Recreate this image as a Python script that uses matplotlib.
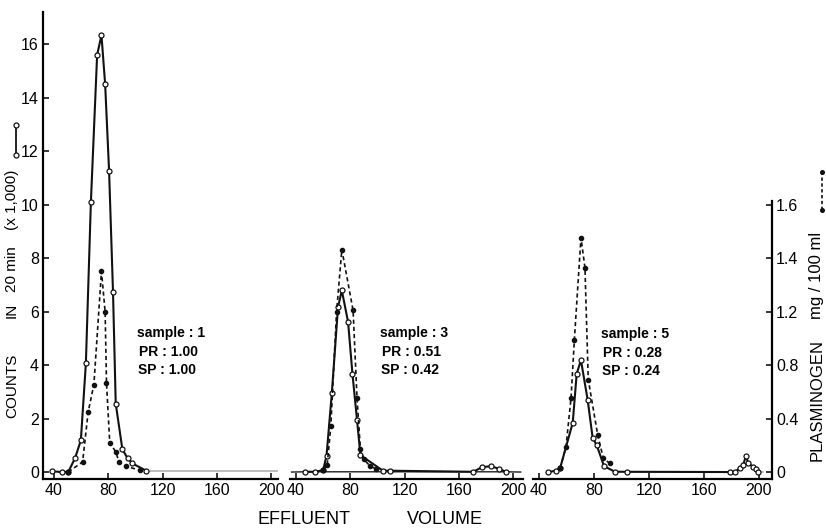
import matplotlib
matplotlib.use('Agg')
import matplotlib.pyplot as plt
from matplotlib.lines import Line2D

plt.rcParams['font.family'] = ['Liberation Sans', 'DejaVu Sans']

W, H = 826, 531

# eixos
volume_ticks = [40, 80, 120, 160, 200]
count_ticks = [0, 2, 4, 6, 8, 10, 12, 14, 16]
mg_ticks = [0, 0.4, 0.8, 1.2, 1.6, 2.0]
mg_tick_labels = ['0', '0.4', '0.8', '1.2', '1.4', '1.6']

sample_names = ['1', '3', '5']
pr_values = ['1.00', '0.51', '0.28']
sp_values = ['1.00', '0.42', '0.24']

# amostra 1 - contagens (x 1000) e plasminogênio (mg/100 ml)
s1_count_x = [38.3, 45.6, 50.5, 55.6, 59.8, 63.5, 67.2, 71.8, 75.0, 77.7, 80.6,
              83.5, 85.5, 90.4, 94.3, 97.8, 108.0]
s1_count_y = [0.03, 0.0, 0.0, 0.53, 1.19, 4.06, 10.1, 15.6, 16.33, 14.5, 11.26,
              6.73, 2.56, 0.85, 0.51, 0.32, 0.05]
s1_plasm_x = [50.5, 61.1, 65.2, 69.4, 75.0, 77.7, 78.7, 81.1, 85.5, 87.9, 92.8, 103.1]
s1_plasm_y = [0.0, 0.076, 0.45, 0.654, 1.50, 1.196, 0.666, 0.218, 0.152, 0.076,
              0.044, 0.014]
s1_base_x = [108.0, 205.0]
s1_base_y = [0.05, 0.05]

# amostra 3
s3_count_x = [46.6, 54.0, 60.0, 62.5, 66.4, 71.0, 73.8, 78.4, 81.6, 85.0, 87.5,
              104.1, 109.0, 170.6, 177.0, 183.6, 189.7, 194.6]
s3_count_y = [0.01, 0.01, 0.07, 0.60, 2.94, 6.17, 6.79, 5.61, 3.68, 1.94, 0.63,
              0.05, 0.05, 0.01, 0.18, 0.22, 0.12, 0.01]
s3_plasm_x = [60.0, 63.0, 65.7, 69.9, 73.8, 82.1, 85.0, 87.5, 90.1, 94.3, 99.2]
s3_plasm_y = [0.014, 0.052, 0.346, 1.196, 1.664, 1.208, 0.55, 0.17, 0.094, 0.048,
              0.022]
s3_base_x = [36.8, 46.6, 194.6, 205.6]
s3_base_y = [0.0, 0.01, 0.01, 0.0]

# amostra 5
s5_count_x = [46.8, 52.0, 55.3, 64.5, 67.4, 70.5, 75.4, 79.0, 81.9, 87.3, 95.3,
              103.8, 178.9, 182.5, 186.1, 188.5, 190.5, 192.2, 195.4, 197.8, 199.4]
s5_count_y = [0.0, 0.05, 0.14, 1.84, 3.68, 4.18, 2.69, 1.28, 1.01, 0.22, 0.01,
              0.01, 0.0, 0.0, 0.14, 0.26, 0.6, 0.35, 0.2, 0.1, 0.0]
s5_plasm_x = [55.3, 59.6, 63.3, 65.7, 70.5, 73.4, 75.8, 82.7, 86.8, 91.6]
s5_plasm_y = [0.028, 0.188, 0.556, 0.99, 1.752, 1.528, 0.692, 0.276, 0.102, 0.064]
s5_base_x = [103.8, 157.0, None, 199.4, 203.0]
s5_base_y = [0.01, 0.01, None, 0.0, 0.0]


def fx(px):
    return px / W


def fy(py):
    return 1 - py / H


count_lim = (-0.26, 17.2)
mg_lim = (count_lim[0] / 5, count_lim[1] / 5)
bottom, top = fy(479), fy(12)

panels = [
    (43, 278, (31.9, 205.1), s1_count_x, s1_count_y, s1_plasm_x, s1_plasm_y,
     s1_base_x, s1_base_y, '#aaaaaa', (137, 333)),
    (290, 523, (35.6, 207.3), s3_count_x, s3_count_y, s3_plasm_x, s3_plasm_y,
     s3_base_x, s3_base_y, '#333333', (380, 333)),
    (533, 772, (35.6, 209.5), s5_count_x, s5_count_y, s5_plasm_x, s5_plasm_y,
     s5_base_x, s5_base_y, '#aaaaaa', (601, 334)),
]

fig = plt.figure(figsize=(W / 100, H / 100), dpi=100)

for i, (x0, x1, xlim, cx, cy, mx, my, bx, by, bcol, txt) in enumerate(panels):
    ax = fig.add_axes([fx(x0), bottom, fx(x1) - fx(x0), top - bottom])
    ax2 = ax.twinx()
    ax.set_xlim(*xlim)
    ax.set_ylim(*count_lim)
    ax2.set_ylim(*mg_lim)
    ax.patch.set_alpha(0)
    ax2.patch.set_alpha(0)

    # linha de base (trecho sem pontos)
    ax.plot([v if v is not None else float('nan') for v in bx],
            [v if v is not None else float('nan') for v in by],
            color=bcol, lw=1.1, zorder=2)
    # contagens: linha cheia com círculos abertos
    ax.plot(cx, cy, color='#111111', lw=1.5, marker='o', markersize=3.6,
            markerfacecolor='white', markeredgewidth=0.9, zorder=3)
    # plasminogênio: linha tracejada com pontos cheios
    ax2.plot(mx, my, color='#111111', lw=1.2, ls=(0, (2.5, 1.8)), marker='o',
             markersize=3.0, markerfacecolor='#111111', zorder=4)

    for a in (ax, ax2):
        a.spines['top'].set_visible(False)
    ax2.spines['left'].set_visible(False)
    ax2.spines['bottom'].set_visible(False)
    ax.spines['right'].set_visible(False)
    ax.spines['bottom'].set_linewidth(1.6)

    ax.set_xticks(volume_ticks)
    ax.tick_params(axis='x', direction='in', length=4, width=1.1, pad=3,
                   labelsize=11.5)

    if i == 0:
        ax.spines['left'].set_linewidth(1.6)
        ax.set_yticks(count_ticks)
        ax.tick_params(axis='y', direction='in', length=4, width=1.1, pad=3,
                       labelsize=11.5)
    else:
        ax.spines['left'].set_visible(False)
        ax.set_yticks([])

    if i == 2:
        ax2.spines['right'].set_linewidth(1.6)
        ax2.spines['right'].set_bounds(mg_lim[0], 2.03)
        ax2.set_yticks(mg_ticks)
        ax2.set_yticklabels(mg_tick_labels)
        ax2.tick_params(axis='y', direction='in', length=4, width=1.1, pad=3,
                        labelsize=11.5)
    else:
        ax2.spines['right'].set_visible(False)
        ax2.set_yticks([])

    # identificação da amostra
    tx, ty = txt
    fig.text(fx(tx), fy(ty), 'sample : ' + sample_names[i], fontsize=10,
             fontweight='bold', va='center', ha='left')
    fig.text(fx(tx + 2), fy(ty + 19), 'PR : ' + pr_values[i], fontsize=10,
             fontweight='bold', va='center', ha='left')
    fig.text(fx(tx + 1), fy(ty + 37), 'SP : ' + sp_values[i], fontsize=10,
             fontweight='bold', va='center', ha='left')

# título do eixo x
fig.text(fx(304), fy(519), 'EFFLUENT', fontsize=13, ha='center', va='center')
fig.text(fx(445), fy(519), 'VOLUME', fontsize=13, ha='center', va='center')

# título do eixo y esquerdo
for word, yc in [('COUNTS', 386), ('IN', 310), ('20 min', 269), ('(x 1,000)', 200)]:
    fig.text(fx(12), fy(yc), word, fontsize=11, rotation=90, ha='center',
             va='center')
fig.add_artist(Line2D([fx(16), fx(16)], [fy(155), fy(125)], transform=fig.transFigure,
                      color='#111111', lw=1.3, marker='o', markersize=3.6,
                      markerfacecolor='white', markeredgewidth=0.9))

# título do eixo y direito
for word, yc in [('PLASMINOGEN', 400), ('mg / 100 ml', 275)]:
    fig.text(fx(817), fy(yc), word, fontsize=12, rotation=90, ha='center',
             va='center')
fig.add_artist(Line2D([fx(822), fx(822)], [fy(210), fy(172)], transform=fig.transFigure,
                      color='#111111', lw=1.2, ls=(0, (2, 1.5)), marker='o',
                      markersize=2.6, markerfacecolor='#111111'))

fig.savefig('out.png', dpi=100, facecolor='white')
